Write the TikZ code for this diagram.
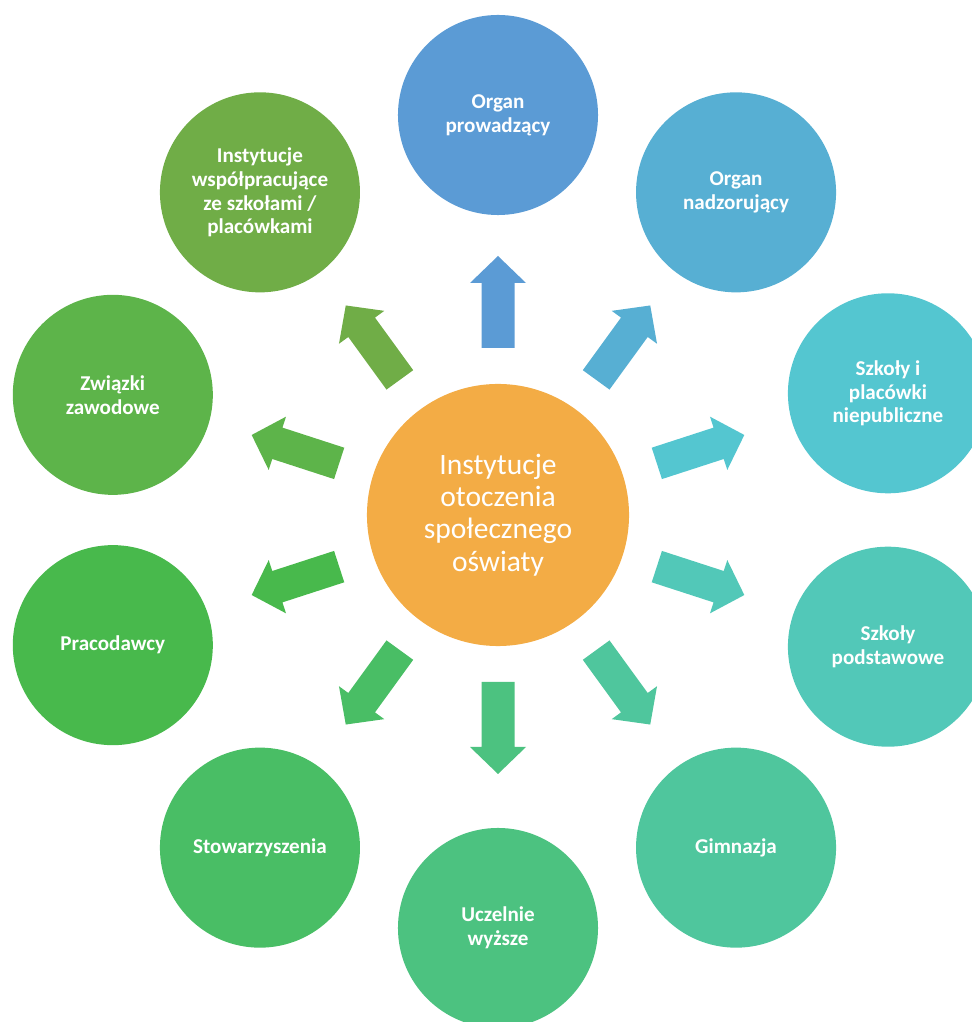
\documentclass[tikz,border=0pt]{standalone}
\usepackage{fontspec}
\setmainfont{Carlito}
\usepackage{xcolor}
\definecolor{hubcol}{RGB}{243,172,69}
\definecolor{cola}{RGB}{91,155,213}
\definecolor{colb}{RGB}{87,175,211}
\definecolor{colc}{RGB}{84,198,208}
\definecolor{cold}{RGB}{82,200,184}
\definecolor{cole}{RGB}{79,198,157}
\definecolor{colf}{RGB}{76,194,128}
\definecolor{colg}{RGB}{73,190,101}
\definecolor{colh}{RGB}{72,185,76}
\definecolor{coli}{RGB}{93,180,74}
\definecolor{colj}{RGB}{112,173,71}
\usepackage{tikz}

\begin{document}
\begin{tikzpicture}[x=0.025cm,y=0.025cm]
	\tikzstyle{hub}=[circle,fill=hubcol,minimum size=6.55cm,inner sep=0pt,text=white,align=center,font=\fontsize{21pt}{23pt}\selectfont];
	\tikzstyle{ring}=[circle,minimum size=5cm,inner sep=0pt,text=white,align=center,font=\fontsize{15pt}{17pt}\selectfont\bfseries];
	%% Frame
	\useasboundingbox (0,0) rectangle (972,1022);
	%% Centre
	\node[hub] (hub) at (498,507) {Instytucje\\otoczenia\\społecznego\\oświaty};
	\coordinate (mid) at (498,502);
	%% Arrows
	\foreach \a/\c in {90/cola,54/colb,18/colc,-18/cold,-54/cole,-90/colf,-126/colg,-162/colh,162/coli,126/colj}
	{
		\begin{scope}[shift={(hub.center)},rotate=\a]
			\fill[\c] (167,-16.5) -- (232,-16.5) -- (232,-28) -- (259,0) -- (232,28) -- (232,16.5) -- (167,16.5) -- cycle;
		\end{scope}
	}
	%% Outer Circles
	\node[ring,fill=cola] (prow) at ([shift={(90:405)}]mid) {Organ\\prowadzący};
	\node[ring,fill=colb] (nadz) at ([shift={(54:405)}]mid) {Organ\\nadzorujący};
	\node[ring,fill=colc] (niep) at ([shift={(18:410)}]mid) {Szkoły i\\placówki\\niepubliczne};
	\node[ring,fill=cold] (podst) at ([shift={(-18:410)}]mid) {Szkoły\\podstawowe};
	\node[ring,fill=cole] (gimn) at ([shift={(-54:405)}]mid) {Gimnazja};
	\node[ring,fill=colf] (ucz) at ([shift={(-90:408)}]mid) {Uczelnie\\wyższe};
	\node[ring,fill=colg] (stow) at ([shift={(-126:405)}]mid) {Stowarzyszenia};
	\node[ring,fill=colh] (prac) at ([shift={(-162:405)}]mid) {Pracodawcy};
	\node[ring,fill=coli] (zwi) at ([shift={(162:405)}]mid) {Związki\\zawodowe};
	\node[ring,fill=colj] (inst) at ([shift={(126:405)}]mid) {Instytucje\\współpracujące\\ze szkołami /\\placówkami};
\end{tikzpicture}
\end{document}
